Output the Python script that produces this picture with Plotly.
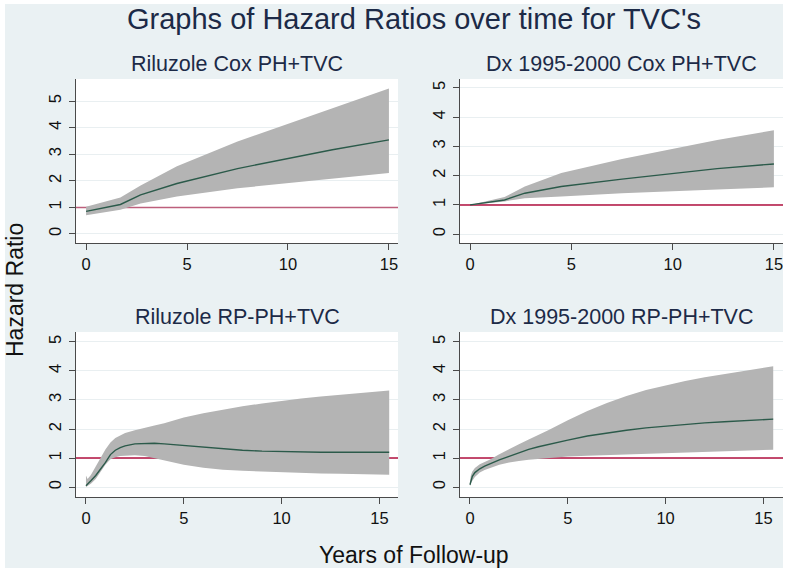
import plotly.graph_objects as go

# ---------------- data ----------------
t_cox = [0, 1.7, 2.7, 4.5, 7.5, 12.2, 15]

ril_cox_hr = [0.85, 1.11, 1.47, 1.90, 2.46, 3.17, 3.54]
ril_cox_up = [1.02, 1.37, 1.82, 2.55, 3.48, 4.73, 5.47]
ril_cox_lo = [0.70, 0.91, 1.15, 1.41, 1.72, 2.07, 2.29]

dx_cox_hr = [1.0, 1.17, 1.40, 1.63, 1.88, 2.24, 2.40]
dx_cox_up = [1.0, 1.27, 1.63, 2.09, 2.57, 3.22, 3.55]
dx_cox_lo = [1.0, 1.12, 1.23, 1.29, 1.40, 1.53, 1.60]

t_ril_rp = [0, 0.08, 0.25, 0.5, 0.75, 1.0, 1.25, 1.5, 1.75, 2, 2.5, 3, 3.5, 4,
            5, 6, 7, 8, 9, 10, 11, 12, 13, 14, 15, 15.5]
ril_rp_hr = [0.05, 0.10, 0.22, 0.40, 0.62, 0.85, 1.12, 1.27, 1.36, 1.42, 1.49, 1.51,
             1.51, 1.49, 1.43, 1.37, 1.31, 1.27, 1.24, 1.22, 1.21, 1.20, 1.20, 1.20,
             1.20, 1.20]
ril_rp_up = [0.40, 0.28, 0.42, 0.72, 1.02, 1.30, 1.54, 1.69, 1.78, 1.86, 1.96, 2.03,
             2.12, 2.20, 2.40, 2.54, 2.67, 2.78, 2.88, 2.97, 3.05, 3.12, 3.18, 3.24,
             3.30, 3.33]
ril_rp_lo = [0.0, 0.02, 0.12, 0.28, 0.52, 0.78, 0.96, 1.03, 1.07, 1.09, 1.10, 1.07,
             1.01, 0.93, 0.77, 0.67, 0.60, 0.56, 0.53, 0.51, 0.49, 0.47, 0.46, 0.45,
             0.44, 0.43]

t_dx_rp = [0, 0.05, 0.12, 0.25, 0.5, 0.75, 1, 1.5, 2, 2.5, 3, 3.5, 4, 5, 6, 7, 8,
           9, 10, 11, 12, 13, 14, 15, 15.5]
dx_rp_hr = [0.08, 0.25, 0.37, 0.50, 0.63, 0.72, 0.80, 0.94, 1.06, 1.19, 1.30, 1.39,
            1.47, 1.62, 1.76, 1.87, 1.96, 2.04, 2.10, 2.16, 2.21, 2.25, 2.29, 2.32, 2.34]
dx_rp_up = [0.20, 0.42, 0.54, 0.66, 0.79, 0.87, 0.94, 1.13, 1.31, 1.48, 1.64, 1.79,
            1.96, 2.30, 2.62, 2.90, 3.14, 3.34, 3.50, 3.65, 3.78, 3.89, 3.99, 4.10, 4.16]
dx_rp_lo = [0.02, 0.14, 0.22, 0.35, 0.50, 0.59, 0.65, 0.77, 0.85, 0.90, 0.94, 0.98,
            1.00, 1.05, 1.08, 1.10, 1.12, 1.145, 1.17, 1.19, 1.21, 1.23, 1.25, 1.28, 1.29]

reference_hr = 1.0

panel_titles = ["Riluzole Cox PH+TVC", "Dx 1995-2000 Cox PH+TVC",
                "Riluzole RP-PH+TVC", "Dx 1995-2000 RP-PH+TVC"]
main_title = "Graphs of Hazard Ratios over time for TVC's"
y_title = "Hazard Ratio"
x_title = "Years of Follow-up"
x_ticks = [0, 5, 10, 15]
y_ticks = [0, 1, 2, 3, 4, 5]

# ---------------- layout helpers ----------------
W, H = 788, 573
FONT = "Liberation Sans, Arial, sans-serif"
BG = "#eaf1f3"
BAND = "#b4b4b4"
LINE = "#2b5a4a"
NAVY = "#1c2a47"
AXC = "#4a4a4a"

def px(x):
    return x / W

def py(y):
    return 1 - y / H

panels = [
    dict(t=t_cox, hr=ril_cox_hr, up=ril_cox_up, lo=ril_cox_lo,
         xd=(76, 398), yd=(79, 243), xr=(-0.5, 15.45), yr=(-0.34, 5.83), ref="#bd5f7c"),
    dict(t=t_cox, hr=dx_cox_hr, up=dx_cox_up, lo=dx_cox_lo,
         xd=(460, 783), yd=(79, 243), xr=(-0.5, 15.45), yr=(-0.3, 5.3), ref="#b2103f"),
    dict(t=t_ril_rp, hr=ril_rp_hr, up=ril_rp_up, lo=ril_rp_lo,
         xd=(76, 398), yd=(332, 497), xr=(-0.51, 15.95), yr=(-0.34, 5.34), ref="#b2103f"),
    dict(t=t_dx_rp, hr=dx_rp_hr, up=dx_rp_up, lo=dx_rp_lo,
         xd=(460, 783), yd=(332, 497), xr=(-0.51, 16.0), yr=(-0.34, 5.34), ref="#b2103f"),
]

fig = go.Figure()
layout = dict(
    width=W, height=H,
    margin=dict(l=0, r=0, t=0, b=0),
    paper_bgcolor=BG, plot_bgcolor="white",
    showlegend=False,
    font=dict(family=FONT, color="#111111"),
)
shapes = []
annotations = []

for i, p in enumerate(panels):
    n = "" if i == 0 else str(i + 1)
    xa, ya = "x" + n, "y" + n
    # reference line at HR = 1 (spanning the axis range, drawn under the band)
    fig.add_trace(go.Scatter(
        x=list(p["xr"]), y=[reference_hr, reference_hr], mode="lines",
        line=dict(color=p["ref"], width=1.5), hoverinfo="skip",
        xaxis=xa, yaxis=ya))
    # confidence band
    fig.add_trace(go.Scatter(
        x=list(p["t"]) + list(p["t"])[::-1],
        y=list(p["up"]) + list(p["lo"])[::-1],
        fill="toself", fillcolor=BAND, line=dict(width=0), mode="lines",
        hoverinfo="skip", xaxis=xa, yaxis=ya))
    # hazard ratio line
    fig.add_trace(go.Scatter(
        x=p["t"], y=p["hr"], mode="lines", line=dict(color=LINE, width=1.4),
        xaxis=xa, yaxis=ya))
    layout["xaxis" + n] = dict(
        domain=[px(p["xd"][0]), px(p["xd"][1])], anchor=ya, range=list(p["xr"]),
        tickvals=x_ticks, ticks="outside", ticklen=6, tickwidth=1.3, tickcolor=AXC,
        showline=True, linecolor=AXC, linewidth=1.3, showgrid=False, zeroline=False,
        tickfont=dict(size=16.5, color="#111111"))
    layout["yaxis" + n] = dict(
        domain=[py(p["yd"][1]), py(p["yd"][0])], anchor=xa, range=list(p["yr"]),
        tickvals=y_ticks, ticks="outside", ticklen=6, tickwidth=1.3, tickcolor=AXC,
        showline=True, linecolor=AXC, linewidth=1.3, showgrid=True,
        gridcolor="#e9eff1", gridwidth=1, zeroline=False, tickangle=-90,
        tickfont=dict(size=16.5, color="#111111"), ticklabelstandoff=1)
    # panel title
    annotations.append(dict(
        text=panel_titles[i], xref="paper", yref="paper",
        x=px((p["xd"][0] + p["xd"][1]) / 2), y=py(p["yd"][0] - 15),
        xanchor="center", yanchor="middle", showarrow=False,
        font=dict(size=21.5, color=NAVY, family=FONT)))

annotations.append(dict(text=main_title, xref="paper", yref="paper",
                        x=px(414), y=py(19), xanchor="center", yanchor="middle",
                        showarrow=False, font=dict(size=29, color=NAVY, family=FONT)))
annotations.append(dict(text=y_title, xref="paper", yref="paper",
                        x=px(15), y=py(290), xanchor="center", yanchor="middle",
                        textangle=-90, showarrow=False,
                        font=dict(size=23, color="#111111", family=FONT)))
annotations.append(dict(text=x_title, xref="paper", yref="paper",
                        x=px(414), y=py(555), xanchor="center", yanchor="middle",
                        showarrow=False, font=dict(size=23, color="#111111", family=FONT)))

# white outer border strips of the exported image
for (x0, y0, x1, y1) in [(0, 0, 5, H), (0, 0, W, 4), (783, 0, W, H), (0, 568, W, H)]:
    shapes.append(dict(type="rect", xref="paper", yref="paper",
                       x0=px(x0), x1=px(x1), y0=py(y1), y1=py(y0),
                       fillcolor="white", line=dict(width=0), layer="above"))

layout["shapes"] = shapes
layout["annotations"] = annotations
fig.update_layout(**layout)
fig.write_html("out.html",
               config={"displayModeBar": False},
               post_script="document.body.style.margin='0px';"
                           "document.body.style.padding='0px';")
